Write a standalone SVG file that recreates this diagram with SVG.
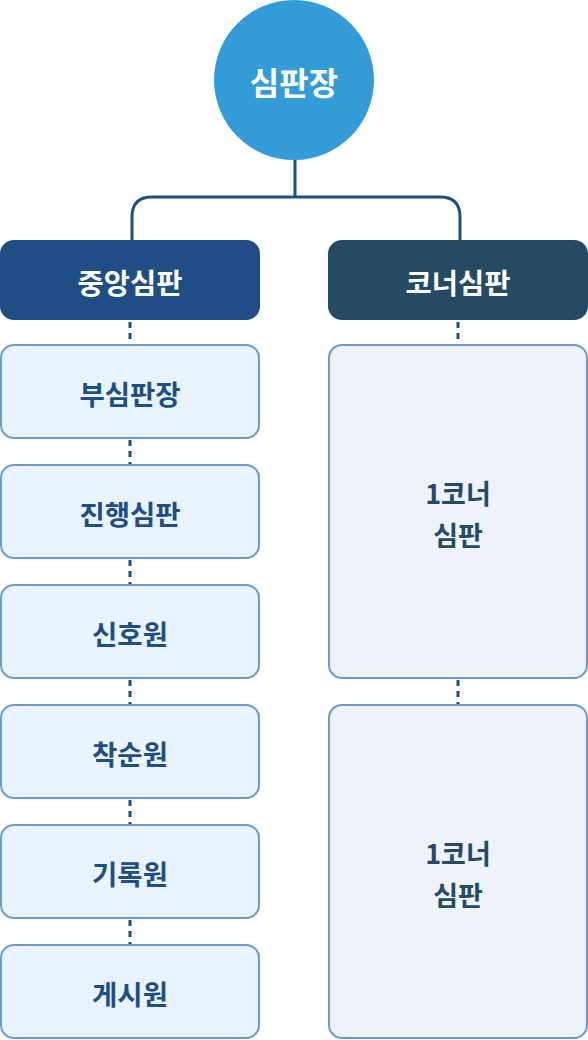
<svg xmlns="http://www.w3.org/2000/svg" width="588" height="1040" viewBox="0 0 588 1040">
<style>
text{font-family:"Noto Sans CJK KR","Noto Sans",sans-serif;font-weight:700;text-anchor:middle;dominant-baseline:central}
.hd{fill:#fff;font-size:28.5px}
.sub{fill:#e9f3fd;stroke:#6b9acb;stroke-width:2}
.subr{fill:#eef3fb;stroke:#6b9acb;stroke-width:2}
.st{fill:#1f4e84;font-size:27.5px}
.rt{fill:#244a64;font-size:27px}
.solid{fill:none;stroke:#1f4e84;stroke-width:3}
.dash{fill:none;stroke:#1f4e84;stroke-width:3;stroke-dasharray:6 5}
</style>
<rect width="588" height="1040" fill="#fff"/>
<g id="connectors">
<path class="solid" d="M295 160V197M132 240V217Q132 197 152 197H440Q460 197 460 217V240"/>
<path class="dash" d="M130 322V345M130 440V465M130 560V585M130 680V705M130 800V825M130 920V945M458 322V345M458 680V705"/>
</g>
<g id="root"><circle cx="294" cy="80" r="80" fill="#339cd8"/><text x="294" y="81" fill="#fff" style="font-size:32px">심판장</text></g>
<g id="central"><rect x="0" y="240" width="260" height="80" rx="14" fill="#1f4e84"/><text class="hd" x="130" y="281">중앙심판</text></g>
<g id="corner"><rect x="328" y="240" width="260" height="80" rx="14" fill="#244a64"/><text class="hd" x="458" y="281">코너심판</text></g>
<g id="n1"><rect class="sub" x="1" y="345" width="258" height="93" rx="13"/><text class="st" x="130" y="392.5">부심판장</text></g>
<g id="n2"><rect class="sub" x="1" y="465" width="258" height="93" rx="13"/><text class="st" x="130" y="512.5">진행심판</text></g>
<g id="n3"><rect class="sub" x="1" y="585" width="258" height="93" rx="13"/><text class="st" x="130" y="632.5">신호원</text></g>
<g id="n4"><rect class="sub" x="1" y="705" width="258" height="93" rx="13"/><text class="st" x="130" y="752.5">착순원</text></g>
<g id="n5"><rect class="sub" x="1" y="825" width="258" height="93" rx="13"/><text class="st" x="130" y="872.5">기록원</text></g>
<g id="n6"><rect class="sub" x="1" y="945" width="258" height="93" rx="13"/><text class="st" x="130" y="992.5">게시원</text></g>
<g id="c1"><rect class="subr" x="329" y="345" width="258" height="333" rx="13"/><text class="rt" x="458" y="492">1코너</text><text class="rt" x="458" y="534">심판</text></g>
<g id="c2"><rect class="subr" x="329" y="705" width="258" height="333" rx="13"/><text class="rt" x="458" y="852">1코너</text><text class="rt" x="458" y="894">심판</text></g>
</svg>
